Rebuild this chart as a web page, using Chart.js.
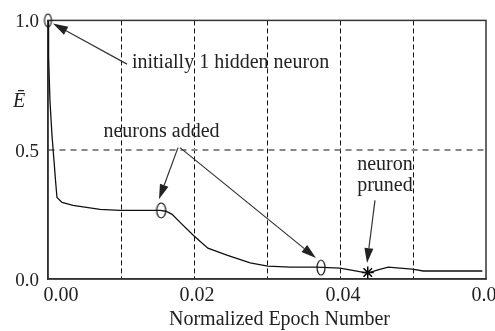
<!DOCTYPE html>
<html><head><meta charset="utf-8">
<script src="https://cdn.jsdelivr.net/npm/chart.js@4"></script>
<style>html,body{margin:0;padding:0;background:#fff}#wrap{width:495px;height:331px}</style>
</head><body><div id="wrap"><canvas id="c" width="495" height="331"></canvas></div>
<script>
// ---- data ----
const epochs = [0, 0.00008, 0.00027, 0.00055, 0.00082, 0.00103, 0.00123, 0.00192, 0.00342, 0.00712, 0.00986, 0.01534, 0.01616, 0.0170, 0.0181, 0.0199, 0.0219, 0.0245, 0.0277, 0.0301, 0.0332, 0.0368, 0.0400, 0.0421, 0.0438, 0.0452, 0.0466, 0.0482, 0.0499, 0.0514, 0.0595];
const errors = [1.0, 0.862, 0.688, 0.554, 0.458, 0.381, 0.315, 0.296, 0.285, 0.269, 0.265, 0.265, 0.262, 0.250, 0.219, 0.169, 0.119, 0.092, 0.062, 0.050, 0.046, 0.046, 0.042, 0.031, 0.023, 0.035, 0.046, 0.042, 0.038, 0.031, 0.031];
const circledEpochs = [0, 0.0155, 0.0374];
const circledErrors = [1.0, 0.265, 0.044];
const prunedEpochs = [0.0438];
const prunedErrors = [0.025];
const xTicks = [0, 0.01, 0.02, 0.03, 0.04, 0.05, 0.06];
const xTickLabels = ['    0.00', '', '0.02', '', '0.04', '', '0.06'];
const yTicks = [0, 0.5, 1.0];
const yTickLabels = ['0.0', '0.5', '1.0'];
const xTitle = 'Normalized Epoch Number';
const yTitle = '\u0112';
// annotations (in data coordinates)
const noteTexts = ['initially 1 hidden neuron', 'neurons added', 'neuron', 'pruned'];
const noteX = [0.0115, 0.01555, 0.04616, 0.04616];
const noteY = [0.835, 0.569, 0.442, 0.362];
const noteAlign = ['left', 'center', 'center', 'center'];
const arrowFromX = [0.01082, 0.01781, 0.01808, 0.04479];
const arrowFromY = [0.831, 0.508, 0.508, 0.304];
const arrowToX = [0.00068, 0.0152, 0.03671, 0.0437];
const arrowToY = [0.988, 0.308, 0.081, 0.0615];

const FONT = "'Liberation Serif', 'Times New Roman', serif";
const INK = '#222';

function ellipseImg(rx, ry, lw) {
  const c = document.createElement('canvas');
  c.width = Math.ceil(2 * rx + lw + 4); c.height = Math.ceil(2 * ry + lw + 4);
  const g = c.getContext('2d');
  g.strokeStyle = '#111'; g.lineWidth = lw;
  g.beginPath(); g.ellipse(c.width / 2, c.height / 2, rx, ry, 0, 0, 2 * Math.PI); g.stroke();
  return c;
}
const ellipseStyles = [ellipseImg(3.5, 6.5, 1.1), ellipseImg(4.5, 7.5, 1.2), ellipseImg(4, 7.5, 1.2)];

function drawArrow(ctx, x1, y1, x2, y2) {
  const a = Math.atan2(y2 - y1, x2 - x1);
  const L = 15, W = 4.5;
  const bx = x2 - L * Math.cos(a), by = y2 - L * Math.sin(a);
  ctx.beginPath(); ctx.moveTo(x1, y1); ctx.lineTo(bx, by); ctx.stroke();
  ctx.beginPath(); ctx.moveTo(x2, y2);
  ctx.lineTo(bx + W * Math.sin(a), by - W * Math.cos(a));
  ctx.lineTo(bx - W * Math.sin(a), by + W * Math.cos(a));
  ctx.closePath(); ctx.fill();
}

const framePlugin = {
  id: 'frame',
  beforeDatasetsDraw(chart) {
    const {ctx, chartArea: a} = chart;
    ctx.save();
    ctx.strokeStyle = '#333'; ctx.lineWidth = 1.5;
    ctx.strokeRect(a.left, a.top, a.right - a.left, a.bottom - a.top);
    ctx.restore();
  }
};

const notesPlugin = {
  id: 'notes',
  afterDatasetsDraw(chart) {
    const {ctx, scales: {x, y}, chartArea: a} = chart;
    ctx.save();
    ctx.fillStyle = INK; ctx.strokeStyle = '#333'; ctx.lineWidth = 1.2;
    for (let i = 0; i < arrowFromX.length; i++) {
      drawArrow(ctx, x.getPixelForValue(arrowFromX[i]), y.getPixelForValue(arrowFromY[i]),
                x.getPixelForValue(arrowToX[i]), y.getPixelForValue(arrowToY[i]));
    }
    ctx.font = '20px ' + FONT;
    ctx.textBaseline = 'middle';
    for (let i = 0; i < noteTexts.length; i++) {
      ctx.textAlign = noteAlign[i];
      ctx.fillText(noteTexts[i], x.getPixelForValue(noteX[i]), y.getPixelForValue(noteY[i]));
    }
    ctx.font = 'italic 20px ' + FONT;
    ctx.textAlign = 'center';
    ctx.fillText(yTitle, a.left - 29, y.getPixelForValue(0.685));
    ctx.restore();
  }
};

new Chart(document.getElementById('c'), {
  type: 'scatter',
  data: {
    datasets: [
      {
        data: epochs.map((v, i) => ({x: v, y: errors[i]})),
        showLine: true, tension: 0, borderColor: '#111', borderWidth: 1.3,
        pointRadius: 0, fill: false
      },
      {
        data: circledEpochs.map((v, i) => ({x: v, y: circledErrors[i]})),
        pointStyle: ellipseStyles, showLine: false, clip: false
      },
      {
        data: prunedEpochs.map((v, i) => ({x: v, y: prunedErrors[i]})),
        pointStyle: 'star', pointRadius: 6, borderColor: '#000', borderWidth: 1.5, showLine: false
      }
    ]
  },
  options: {
    responsive: false, animation: false, devicePixelRatio: 1,
    layout: {padding: {top: 19, right: 9, left: 0, bottom: 0}},
    plugins: {legend: {display: false}, tooltip: {enabled: false}},
    scales: {
      x: {
        type: 'linear', min: 0, max: 0.06,
        afterBuildTicks: s => { s.ticks = xTicks.map(v => ({value: v})); },
        afterFit: s => { s.height = 52; s.paddingLeft = 0; s.paddingRight = 0; },
        grid: {
          drawTicks: false, lineWidth: 1,
          color: c => (c.index === 0 || c.index === xTicks.length - 1) ? 'rgba(0,0,0,0)' : '#111'
        },
        border: {display: true, color: '#333', width: 1.5, dash: [5, 3]},
        ticks: {
          callback: (v, i) => xTickLabels[i], padding: 5, labelOffset: 3, maxRotation: 0, autoSkip: false,
          color: INK, font: {family: FONT, size: 20}
        },
        title: {display: true, text: '     ' + xTitle, color: INK, font: {family: FONT, size: 20, lineHeight: 1.1}, padding: 0}
      },
      y: {
        type: 'linear', min: 0, max: 1,
        afterBuildTicks: s => { s.ticks = yTicks.map(v => ({value: v})); },
        afterFit: s => { s.width = 48; },
        grid: {
          drawTicks: false, lineWidth: 2,
          color: c => (c.index === 0 || c.index === yTicks.length - 1) ? 'rgba(0,0,0,0)' : '#888'
        },
        border: {display: true, color: '#333', width: 1.5, dash: [6, 5]},
        ticks: {
          callback: (v, i) => yTickLabels[i], padding: 9, labelOffset: 2, autoSkip: false,
          color: INK, font: {family: FONT, size: 19}
        }
      }
    }
  },
  plugins: [framePlugin, notesPlugin]
});
</script>
</body></html>
